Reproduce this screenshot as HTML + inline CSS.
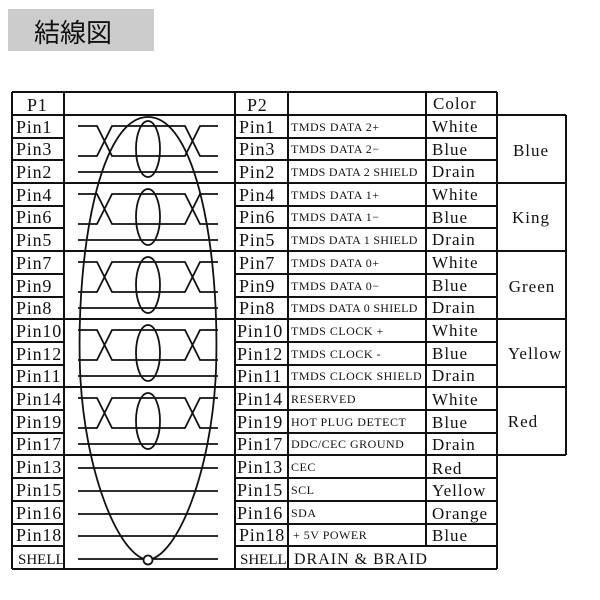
<!DOCTYPE html>
<html><head><meta charset="utf-8"><style>
html,body{margin:0;padding:0;background:#fff;}
svg{display:block;}
.p{font-family:"Liberation Serif","Noto Serif CJK JP",serif;font-size:18px;letter-spacing:0.8px;fill:#111;}
.d{font-family:"Liberation Serif","Noto Serif CJK JP",serif;font-size:12px;letter-spacing:0.5px;fill:#111;}
.c{font-family:"Liberation Serif","Noto Serif CJK JP",serif;font-size:17px;letter-spacing:1px;fill:#111;}
</style></head><body>
<svg width="600" height="600" viewBox="0 0 600 600" xmlns="http://www.w3.org/2000/svg">
<rect x="8" y="9" width="146" height="42" fill="#cccccc"/>
<text x="34" y="42" font-family="'Noto Sans CJK JP',sans-serif" font-size="26" fill="#111">結線図</text>
<g stroke="#111" stroke-width="2" fill="none">
<path d="M12,92H497 M12,115H566 M12,183H566 M12,251H566 M12,319H566 M12,387H566 M12,455H566 M12,569H497"/>
<path d="M12,138H64 M12,160H64 M12,206H64 M12,228H64 M12,274H64 M12,297H64 M12,342H64 M12,365H64 M12,410H64 M12,433H64 M12,478H64 M12,501H64 M12,524H64 M12,546H64"/>
<path d="M235,138H497 M235,160H497 M235,206H497 M235,228H497 M235,274H497 M235,297H497 M235,342H497 M235,365H497 M235,410H497 M235,433H497 M235,478H497 M235,501H497 M235,524H497 M235,546H497"/>
<path d="M12,92V569 M64,92V569 M235,92V569 M288,92V569 M426,92V546 M497,92V569 M566,115V455"/>
</g>
<g stroke="#111" stroke-width="1.8" fill="none">
<path d="M78,126H97L112,156H185L200,126H218 M78,156H97L112,126H185L200,156H218 M78,172H218"/>
<ellipse cx="148" cy="149" rx="12" ry="28"/>
<path d="M78,194H97L112,224H185L200,194H218 M78,224H97L112,194H185L200,224H218 M78,240H218"/>
<ellipse cx="148" cy="217" rx="12" ry="28"/>
<path d="M78,262H97L112,292H185L200,262H218 M78,292H97L112,262H185L200,292H218 M78,308H218"/>
<ellipse cx="148" cy="285" rx="12" ry="28"/>
<path d="M78,330H97L112,360H185L200,330H218 M78,360H97L112,330H185L200,360H218 M78,376H218"/>
<ellipse cx="148" cy="353" rx="12" ry="28"/>
<path d="M78,398H97L112,428H185L200,398H218 M78,428H97L112,398H185L200,428H218 M78,444H218"/>
<ellipse cx="148" cy="421" rx="12" ry="28"/>
<path d="M78,468H218 M78,491H218 M78,514H218 M78,536H218 M78,559H218"/>
<path d="M148,117 C100,117 76,250 80,370 C84,470 118,556 148,560 C178,556 212,470 216,370 C220,250 196,117 148,117 Z"/>
<circle cx="148" cy="560" r="4.5" fill="#fff"/>
</g>
<text class="p" x="27" y="111" font-size="20">P1</text>
<text class="p" x="247" y="111" font-size="20">P2</text>
<text class="c" x="433" y="109">Color</text>
<g class="p">
<text x="16" y="133">Pin1</text><text x="16" y="155">Pin3</text><text x="16" y="178">Pin2</text>
<text x="16" y="201">Pin4</text><text x="16" y="223">Pin6</text><text x="16" y="246">Pin5</text>
<text x="16" y="269">Pin7</text><text x="16" y="292">Pin9</text><text x="16" y="314">Pin8</text>
<text x="16" y="337">Pin10</text><text x="16" y="360">Pin12</text><text x="16" y="382">Pin11</text>
<text x="16" y="405">Pin14</text><text x="16" y="428">Pin19</text><text x="16" y="450">Pin17</text>
<text x="16" y="473">Pin13</text><text x="16" y="496">Pin15</text><text x="16" y="519">Pin16</text>
<text x="16" y="541">Pin18</text><text x="18" y="564" font-size="15" letter-spacing="0">SHELL</text>
</g>
<g class="p">
<text x="239" y="133">Pin1</text><text x="239" y="155">Pin3</text><text x="239" y="178">Pin2</text>
<text x="239" y="201">Pin4</text><text x="239" y="223">Pin6</text><text x="239" y="246">Pin5</text>
<text x="239" y="269">Pin7</text><text x="239" y="292">Pin9</text><text x="239" y="314">Pin8</text>
<text x="237" y="337">Pin10</text><text x="237" y="360">Pin12</text><text x="237" y="382">Pin11</text>
<text x="237" y="405">Pin14</text><text x="237" y="428">Pin19</text><text x="237" y="450">Pin17</text>
<text x="237" y="473">Pin13</text><text x="237" y="496">Pin15</text><text x="237" y="519">Pin16</text>
<text x="239" y="541">Pin18</text><text x="240" y="564" font-size="15" letter-spacing="0">SHELL</text>
</g>
<g class="d">
<text x="291" y="131">TMDS DATA 2+</text><text x="291" y="153">TMDS DATA 2−</text><text x="291" y="176" letter-spacing="0.3">TMDS DATA 2 SHIELD</text>
<text x="291" y="199">TMDS DATA 1+</text><text x="291" y="221">TMDS DATA 1−</text><text x="291" y="244" letter-spacing="0.3">TMDS DATA 1 SHIELD</text>
<text x="291" y="267">TMDS DATA 0+</text><text x="291" y="290">TMDS DATA 0−</text><text x="291" y="312" letter-spacing="0.3">TMDS DATA 0 SHIELD</text>
<text x="291" y="335">TMDS CLOCK +</text><text x="291" y="358">TMDS CLOCK -</text><text x="291" y="380" letter-spacing="0.5">TMDS CLOCK SHIELD</text>
<text x="291" y="403">RESERVED</text><text x="291" y="426">HOT PLUG DETECT</text><text x="291" y="448">DDC/CEC GROUND</text>
<text x="291" y="471">CEC</text><text x="291" y="494">SCL</text><text x="291" y="517">SDA</text>
<text x="293" y="539">+ 5V POWER</text><text x="294" y="564" font-size="16" letter-spacing="1">DRAIN &amp; BRAID</text>
</g>
<g class="c">
<text x="432" y="132">White</text><text x="432" y="155">Blue</text><text x="432" y="177">Drain</text>
<text x="432" y="200">White</text><text x="432" y="223">Blue</text><text x="432" y="245">Drain</text>
<text x="432" y="268">White</text><text x="432" y="291">Blue</text><text x="432" y="313">Drain</text>
<text x="432" y="336">White</text><text x="432" y="359">Blue</text><text x="432" y="381">Drain</text>
<text x="432" y="405">White</text><text x="432" y="428">Blue</text><text x="432" y="450">Drain</text>
<text x="432" y="474">Red</text><text x="432" y="496">Yellow</text><text x="432" y="519">Orange</text>
<text x="432" y="541">Blue</text>
</g>
<g class="c" text-anchor="middle">
<text x="531" y="156">Blue</text><text x="531" y="223">King</text><text x="532" y="292">Green</text>
<text x="535" y="359">Yellow</text><text x="523" y="427">Red</text>
</g>
</svg>
</body></html>
